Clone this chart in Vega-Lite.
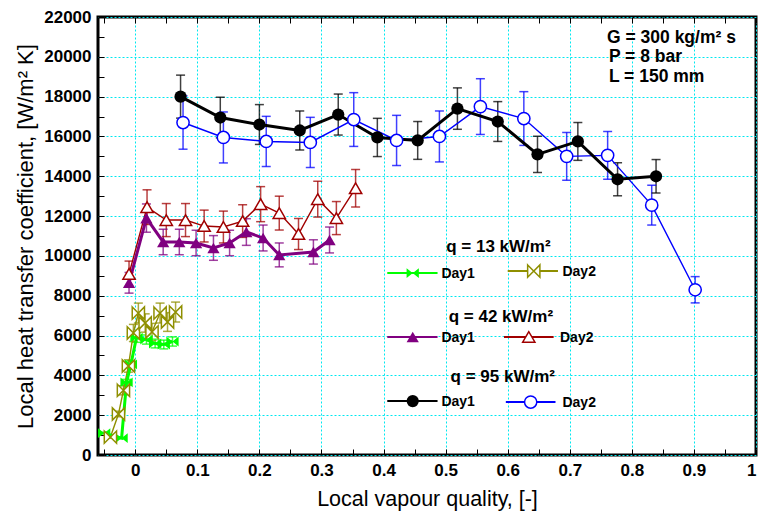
{
  "$schema": "https://vega.github.io/schema/vega-lite/v6.json",
  "width": 658,
  "height": 438,
  "autosize": {"type": "none"},
  "padding": {"left": 98, "top": 17, "right": 5, "bottom": 67},
  "background": "white",
  "config": {
    "view": {"stroke": "black", "strokeWidth": 3},
    "font": "Liberation Sans",
    "axis": {"domain": false, "tickColor": "black", "tickWidth": 1, "labelFont": "Liberation Sans", "titleFont": "Liberation Sans"}
  },
  "datasets": {
    "pts": [
      {"s": "95 Day1", "x": 0.073, "y": 18000, "lo": 16920, "hi": 19080},
      {"s": "95 Day1", "x": 0.137, "y": 16950, "lo": 15930, "hi": 17970},
      {"s": "95 Day1", "x": 0.2, "y": 16600, "lo": 15600, "hi": 17600},
      {"s": "95 Day1", "x": 0.265, "y": 16300, "lo": 15320, "hi": 17280},
      {"s": "95 Day1", "x": 0.327, "y": 17100, "lo": 16070, "hi": 18130},
      {"s": "95 Day1", "x": 0.39, "y": 15950, "lo": 14990, "hi": 16910},
      {"s": "95 Day1", "x": 0.455, "y": 15800, "lo": 14850, "hi": 16750},
      {"s": "95 Day1", "x": 0.519, "y": 17400, "lo": 16360, "hi": 18440},
      {"s": "95 Day1", "x": 0.584, "y": 16750, "lo": 15750, "hi": 17750},
      {"s": "95 Day1", "x": 0.648, "y": 15100, "lo": 14190, "hi": 16010},
      {"s": "95 Day1", "x": 0.713, "y": 15750, "lo": 14800, "hi": 16700},
      {"s": "95 Day1", "x": 0.777, "y": 13850, "lo": 13020, "hi": 14680},
      {"s": "95 Day1", "x": 0.839, "y": 14000, "lo": 13160, "hi": 14840},
      {"s": "95 Day2", "x": 0.077, "y": 16700, "lo": 15360, "hi": 18040},
      {"s": "95 Day2", "x": 0.142, "y": 15950, "lo": 14670, "hi": 17230},
      {"s": "95 Day2", "x": 0.211, "y": 15750, "lo": 14490, "hi": 17010},
      {"s": "95 Day2", "x": 0.282, "y": 15700, "lo": 14440, "hi": 16960},
      {"s": "95 Day2", "x": 0.352, "y": 16850, "lo": 15500, "hi": 18200},
      {"s": "95 Day2", "x": 0.421, "y": 15800, "lo": 14540, "hi": 17060},
      {"s": "95 Day2", "x": 0.49, "y": 16000, "lo": 14720, "hi": 17280},
      {"s": "95 Day2", "x": 0.556, "y": 17500, "lo": 16100, "hi": 18900},
      {"s": "95 Day2", "x": 0.626, "y": 16900, "lo": 15550, "hi": 18250},
      {"s": "95 Day2", "x": 0.695, "y": 15000, "lo": 13800, "hi": 16200},
      {"s": "95 Day2", "x": 0.761, "y": 15050, "lo": 13850, "hi": 16250},
      {"s": "95 Day2", "x": 0.832, "y": 12550, "lo": 11550, "hi": 13550},
      {"s": "95 Day2", "x": 0.902, "y": 8300, "lo": 7640, "hi": 8960},
      {"s": "42 Day1", "x": -0.01, "y": 8650, "lo": 8130, "hi": 9170},
      {"s": "42 Day1", "x": 0.018, "y": 11900, "lo": 11190, "hi": 12610},
      {"s": "42 Day1", "x": 0.045, "y": 10700, "lo": 10060, "hi": 11340},
      {"s": "42 Day1", "x": 0.071, "y": 10700, "lo": 10060, "hi": 11340},
      {"s": "42 Day1", "x": 0.098, "y": 10650, "lo": 10010, "hi": 11290},
      {"s": "42 Day1", "x": 0.126, "y": 10400, "lo": 9780, "hi": 11020},
      {"s": "42 Day1", "x": 0.152, "y": 10650, "lo": 10010, "hi": 11290},
      {"s": "42 Day1", "x": 0.179, "y": 11200, "lo": 10530, "hi": 11870},
      {"s": "42 Day1", "x": 0.206, "y": 10900, "lo": 10250, "hi": 11550},
      {"s": "42 Day1", "x": 0.232, "y": 10050, "lo": 9450, "hi": 10650},
      {"s": "42 Day1", "x": 0.287, "y": 10200, "lo": 9590, "hi": 10810},
      {"s": "42 Day1", "x": 0.313, "y": 10800, "lo": 10150, "hi": 11450},
      {"s": "42 Day2", "x": -0.01, "y": 9100, "lo": 8460, "hi": 9740},
      {"s": "42 Day2", "x": 0.019, "y": 12450, "lo": 11580, "hi": 13320},
      {"s": "42 Day2", "x": 0.05, "y": 11800, "lo": 10970, "hi": 12630},
      {"s": "42 Day2", "x": 0.081, "y": 11800, "lo": 10970, "hi": 12630},
      {"s": "42 Day2", "x": 0.111, "y": 11500, "lo": 10700, "hi": 12300},
      {"s": "42 Day2", "x": 0.142, "y": 11450, "lo": 10650, "hi": 12250},
      {"s": "42 Day2", "x": 0.173, "y": 11750, "lo": 10930, "hi": 12570},
      {"s": "42 Day2", "x": 0.202, "y": 12600, "lo": 11720, "hi": 13480},
      {"s": "42 Day2", "x": 0.232, "y": 12150, "lo": 11300, "hi": 13000},
      {"s": "42 Day2", "x": 0.263, "y": 11100, "lo": 10320, "hi": 11880},
      {"s": "42 Day2", "x": 0.294, "y": 12850, "lo": 11950, "hi": 13750},
      {"s": "42 Day2", "x": 0.324, "y": 11900, "lo": 11070, "hi": 12730},
      {"s": "42 Day2", "x": 0.355, "y": 13400, "lo": 12460, "hi": 14340},
      {"s": "13 Day1", "x": -0.05, "y": 1100, "lo": 1060, "hi": 1140},
      {"s": "13 Day1", "x": -0.022, "y": 850, "lo": 820, "hi": 880},
      {"s": "13 Day1", "x": -0.014, "y": 3650, "lo": 3500, "hi": 3800},
      {"s": "13 Day1", "x": -0.007, "y": 4550, "lo": 4370, "hi": 4730},
      {"s": "13 Day1", "x": 0.002, "y": 5900, "lo": 5660, "hi": 6140},
      {"s": "13 Day1", "x": 0.018, "y": 5800, "lo": 5570, "hi": 6030},
      {"s": "13 Day1", "x": 0.032, "y": 5600, "lo": 5380, "hi": 5820},
      {"s": "13 Day1", "x": 0.046, "y": 5550, "lo": 5330, "hi": 5770},
      {"s": "13 Day1", "x": 0.06, "y": 5700, "lo": 5470, "hi": 5930},
      {"s": "13 Day2", "x": -0.04, "y": 900, "lo": 840, "hi": 960},
      {"s": "13 Day2", "x": -0.027, "y": 2060, "lo": 1920, "hi": 2200},
      {"s": "13 Day2", "x": -0.019, "y": 3250, "lo": 3020, "hi": 3480},
      {"s": "13 Day2", "x": -0.011, "y": 4470, "lo": 4160, "hi": 4780},
      {"s": "13 Day2", "x": -0.003, "y": 6130, "lo": 5700, "hi": 6560},
      {"s": "13 Day2", "x": 0.005, "y": 7130, "lo": 6630, "hi": 7630},
      {"s": "13 Day2", "x": 0.016, "y": 6630, "lo": 6170, "hi": 7090},
      {"s": "13 Day2", "x": 0.027, "y": 6180, "lo": 5750, "hi": 6610},
      {"s": "13 Day2", "x": 0.04, "y": 7130, "lo": 6630, "hi": 7630},
      {"s": "13 Day2", "x": 0.052, "y": 6680, "lo": 6210, "hi": 7150},
      {"s": "13 Day2", "x": 0.065, "y": 7180, "lo": 6680, "hi": 7680}
    ],
    "leg": [
      {"s": "13 Day1", "x1": 0.406, "x2": 0.487, "mx": 0.447, "y": 9140, "tx": 0.49, "t": "Day1"},
      {"s": "13 Day2", "x1": 0.6, "x2": 0.681, "mx": 0.642, "y": 9240, "tx": 0.685, "t": "Day2"},
      {"s": "42 Day1", "x1": 0.406, "x2": 0.487, "mx": 0.447, "y": 5930, "tx": 0.49, "t": "Day1"},
      {"s": "42 Day2", "x1": 0.594, "x2": 0.674, "mx": 0.634, "y": 5930, "tx": 0.681, "t": "Day2"},
      {"s": "95 Day1", "x1": 0.406, "x2": 0.487, "mx": 0.447, "y": 2710, "tx": 0.49, "t": "Day1"},
      {"s": "95 Day2", "x1": 0.597, "x2": 0.677, "mx": 0.637, "y": 2660, "tx": 0.685, "t": "Day2"}
    ],
    "qtext": [
      {"x": 0.585, "y": 10450, "t": "q = 13 kW/m²"},
      {"x": 0.589, "y": 6930, "t": "q = 42 kW/m²"},
      {"x": 0.592, "y": 3920, "t": "q = 95 kW/m²"}
    ],
    "cond": [
      {"x": 0.76, "y": 20950, "t": "G = 300 kg/m² s"},
      {"x": 0.763, "y": 19990, "t": "P = 8 bar"},
      {"x": 0.763, "y": 18990, "t": "L = 150 mm"}
    ]
  },
  "layer": [
    {
      "data": {"name": "cond"},
      "mark": {"type": "text", "align": "left", "baseline": "middle", "fontSize": 17.5, "fontWeight": "bold", "color": "black"},
      "encoding": {
        "x": {"field": "x", "type": "quantitative", "scale": {"domain": [-0.06, 1.0], "nice": false, "zero": false},
          "axis": {"title": "Local vapour quality, [-]", "titleFontSize": 21.5, "titleFontWeight": "normal", "titlePadding": 10, "titleColor": "black",
            "values": [-0.05, 0, 0.05, 0.1, 0.15, 0.2, 0.25, 0.3, 0.35, 0.4, 0.45, 0.5, 0.55, 0.6, 0.65, 0.7, 0.75, 0.8, 0.85, 0.9, 0.95, 1.0],
            "labelExpr": "(abs(datum.value*10 - round(datum.value*10)) < 0.001 && datum.value >= 0) ? format(datum.value, '') : ''",
            "labelFontSize": 17, "labelFontWeight": "bold", "labelColor": "black", "labelPadding": 13, "tickSize": -6,
            "grid": true, "gridColor": "#00e8f0", "gridDash": [2, 2], "gridWidth": 1,
            "gridOpacity": {"condition": {"test": "abs(datum.value*10 - round(datum.value*10)) < 0.001 && datum.value >= 0", "value": 1}, "value": 0}}},
        "y": {"field": "y", "type": "quantitative", "scale": {"domain": [0, 22000], "nice": false, "zero": false},
          "axis": {"title": "Local heat transfer coefficient, [W/m² K]", "titleFontSize": 22, "titleFontWeight": "normal", "titlePadding": 6, "titleColor": "black",
            "values": [0, 1000, 2000, 3000, 4000, 5000, 6000, 7000, 8000, 9000, 10000, 11000, 12000, 13000, 14000, 15000, 16000, 17000, 18000, 19000, 20000, 21000, 22000],
            "labelExpr": "datum.value % 2000 == 0 ? '' + datum.value : ''",
            "labelFontSize": 17, "labelFontWeight": "bold", "labelColor": "black", "labelPadding": 13, "tickSize": -6,
            "grid": true, "gridColor": "#00e8f0", "gridDash": [2, 2], "gridWidth": 1,
            "gridOpacity": {"condition": {"test": "datum.value % 2000 == 0", "value": 1}, "value": 0}}},
        "text": {"field": "t"}
      }
    },
    {
      "data": {"name": "qtext"},
      "mark": {"type": "text", "align": "center", "baseline": "middle", "fontSize": 17, "fontWeight": "bold", "color": "black"},
      "encoding": {
        "x": {"field": "x", "type": "quantitative", "scale": {"domain": [-0.06, 1.0], "nice": false, "zero": false},
          "axis": {"orient": "top", "title": null, "labels": false, "grid": false, "tickSize": -6,
            "values": [-0.05, 0, 0.05, 0.1, 0.15, 0.2, 0.25, 0.3, 0.35, 0.4, 0.45, 0.5, 0.55, 0.6, 0.65, 0.7, 0.75, 0.8, 0.85, 0.9, 0.95, 1.0]}},
        "y": {"field": "y", "type": "quantitative", "scale": {"domain": [0, 22000], "nice": false, "zero": false}, "axis": null},
        "text": {"field": "t"}
      }
    },
    {
      "data": {"name": "pts"},
      "mark": {"type": "rule", "strokeWidth": 1.5, "opacity": 0.75},
      "encoding": {
        "x": {"field": "x", "type": "quantitative", "scale": {"domain": [-0.06, 1.0], "nice": false, "zero": false}, "axis": null},
        "y": {"field": "lo", "type": "quantitative", "scale": {"domain": [0, 22000], "nice": false, "zero": false}, "axis": null},
        "y2": {"field": "hi"},
        "color": {"field": "s", "type": "nominal", "legend": null,
          "scale": {"domain": ["13 Day1", "13 Day2", "42 Day1", "42 Day2", "95 Day1", "95 Day2"], "range": ["#00ff00", "#8f8f00", "#800080", "#a00000", "#000000", "#0000ff"]}}
      }
    },
    {
      "data": {"name": "pts"},
      "mark": {"type": "tick", "orient": "horizontal", "size": 9, "thickness": 1.5, "opacity": 0.75},
      "encoding": {
        "x": {"field": "x", "type": "quantitative", "scale": {"domain": [-0.06, 1.0], "nice": false, "zero": false}, "axis": null},
        "y": {"field": "lo", "type": "quantitative", "scale": {"domain": [0, 22000], "nice": false, "zero": false}, "axis": null},
        "color": {"field": "s", "type": "nominal", "legend": null,
          "scale": {"domain": ["13 Day1", "13 Day2", "42 Day1", "42 Day2", "95 Day1", "95 Day2"], "range": ["#00ff00", "#8f8f00", "#800080", "#a00000", "#000000", "#0000ff"]}}
      }
    },
    {
      "data": {"name": "pts"},
      "mark": {"type": "tick", "orient": "horizontal", "size": 9, "thickness": 1.5, "opacity": 0.75},
      "encoding": {
        "x": {"field": "x", "type": "quantitative", "scale": {"domain": [-0.06, 1.0], "nice": false, "zero": false}, "axis": null},
        "y": {"field": "hi", "type": "quantitative", "scale": {"domain": [0, 22000], "nice": false, "zero": false}, "axis": null},
        "color": {"field": "s", "type": "nominal", "legend": null,
          "scale": {"domain": ["13 Day1", "13 Day2", "42 Day1", "42 Day2", "95 Day1", "95 Day2"], "range": ["#00ff00", "#8f8f00", "#800080", "#a00000", "#000000", "#0000ff"]}}
      }
    },
    {
      "data": {"name": "pts"},
      "transform": [{"filter": "indexof(datum.s, 'Day2') >= 0"}],
      "mark": {"type": "line", "strokeWidth": 1.4},
      "encoding": {
        "x": {"field": "x", "type": "quantitative", "scale": {"domain": [-0.06, 1.0], "nice": false, "zero": false}, "axis": null},
        "y": {"field": "y", "type": "quantitative", "scale": {"domain": [0, 22000], "nice": false, "zero": false}, "axis": null},
        "detail": {"field": "s"},
        "color": {"field": "s", "type": "nominal", "legend": null,
          "scale": {"domain": ["13 Day1", "13 Day2", "42 Day1", "42 Day2", "95 Day1", "95 Day2"], "range": ["#00ff00", "#8f8f00", "#800080", "#a00000", "#000000", "#0000ff"]}}
      }
    },
    {
      "data": {"name": "pts"},
      "transform": [{"filter": "indexof(datum.s, 'Day1') >= 0"}],
      "mark": {"type": "line", "strokeWidth": 3},
      "encoding": {
        "x": {"field": "x", "type": "quantitative", "scale": {"domain": [-0.06, 1.0], "nice": false, "zero": false}, "axis": null},
        "y": {"field": "y", "type": "quantitative", "scale": {"domain": [0, 22000], "nice": false, "zero": false}, "axis": null},
        "detail": {"field": "s"},
        "color": {"field": "s", "type": "nominal", "legend": null,
          "scale": {"domain": ["13 Day1", "13 Day2", "42 Day1", "42 Day2", "95 Day1", "95 Day2"], "range": ["#00ff00", "#8f8f00", "#800080", "#a00000", "#000000", "#0000ff"]}}
      }
    },
    {
      "data": {"name": "pts"},
      "transform": [{"filter": "indexof(datum.s, 'Day1') >= 0"}],
      "mark": {"type": "point", "filled": true, "opacity": 1, "size": 150},
      "encoding": {
        "x": {"field": "x", "type": "quantitative", "scale": {"domain": [-0.06, 1.0], "nice": false, "zero": false}, "axis": null},
        "y": {"field": "y", "type": "quantitative", "scale": {"domain": [0, 22000], "nice": false, "zero": false}, "axis": null},
        "color": {"field": "s", "type": "nominal", "legend": null,
          "scale": {"domain": ["13 Day1", "13 Day2", "42 Day1", "42 Day2", "95 Day1", "95 Day2"], "range": ["#00ff00", "#8f8f00", "#800080", "#a00000", "#000000", "#0000ff"]}},
        "shape": {"field": "s", "type": "nominal", "legend": null,
          "scale": {"domain": ["13 Day1", "13 Day2", "42 Day1", "42 Day2", "95 Day1", "95 Day2"], "range": ["M-1,-0.8L1,0.8L1,-0.8L-1,0.8Z", "M-1,-1L1,1L1,-1L-1,1Z", "triangle-up", "triangle-up", "circle", "circle"]}}
      }
    },
    {
      "data": {"name": "pts"},
      "transform": [{"filter": "indexof(datum.s, 'Day2') >= 0"}],
      "mark": {"type": "point", "filled": false, "fill": "white", "fillOpacity": 1, "opacity": 1, "size": 150, "strokeWidth": 1.5},
      "encoding": {
        "x": {"field": "x", "type": "quantitative", "scale": {"domain": [-0.06, 1.0], "nice": false, "zero": false}, "axis": null},
        "y": {"field": "y", "type": "quantitative", "scale": {"domain": [0, 22000], "nice": false, "zero": false}, "axis": null},
        "stroke": {"field": "s", "type": "nominal", "legend": null,
          "scale": {"domain": ["13 Day1", "13 Day2", "42 Day1", "42 Day2", "95 Day1", "95 Day2"], "range": ["#00ff00", "#8f8f00", "#800080", "#a00000", "#000000", "#0000ff"]}},
        "shape": {"field": "s", "type": "nominal", "legend": null,
          "scale": {"domain": ["13 Day1", "13 Day2", "42 Day1", "42 Day2", "95 Day1", "95 Day2"], "range": ["M-1,-0.8L1,0.8L1,-0.8L-1,0.8Z", "M-1,-1L1,1L1,-1L-1,1Z", "triangle-up", "triangle-up", "circle", "circle"]}}
      }
    },
    {
      "data": {"name": "leg"},
      "mark": {"type": "rule", "strokeWidth": 2},
      "encoding": {
        "x": {"field": "x1", "type": "quantitative", "scale": {"domain": [-0.06, 1.0], "nice": false, "zero": false}, "axis": null},
        "x2": {"field": "x2"},
        "y": {"field": "y", "type": "quantitative", "scale": {"domain": [0, 22000], "nice": false, "zero": false}, "axis": null},
        "color": {"field": "s", "type": "nominal", "legend": null,
          "scale": {"domain": ["13 Day1", "13 Day2", "42 Day1", "42 Day2", "95 Day1", "95 Day2"], "range": ["#00ff00", "#8f8f00", "#800080", "#a00000", "#000000", "#0000ff"]}}
      }
    },
    {
      "data": {"name": "leg"},
      "transform": [{"filter": "indexof(datum.s, 'Day1') >= 0"}],
      "mark": {"type": "point", "filled": true, "opacity": 1, "size": 150},
      "encoding": {
        "x": {"field": "mx", "type": "quantitative", "scale": {"domain": [-0.06, 1.0], "nice": false, "zero": false}, "axis": null},
        "y": {"field": "y", "type": "quantitative", "scale": {"domain": [0, 22000], "nice": false, "zero": false}, "axis": null},
        "color": {"field": "s", "type": "nominal", "legend": null,
          "scale": {"domain": ["13 Day1", "13 Day2", "42 Day1", "42 Day2", "95 Day1", "95 Day2"], "range": ["#00ff00", "#8f8f00", "#800080", "#a00000", "#000000", "#0000ff"]}},
        "shape": {"field": "s", "type": "nominal", "legend": null,
          "scale": {"domain": ["13 Day1", "13 Day2", "42 Day1", "42 Day2", "95 Day1", "95 Day2"], "range": ["M-1,-0.8L1,0.8L1,-0.8L-1,0.8Z", "M-1,-1L1,1L1,-1L-1,1Z", "triangle-up", "triangle-up", "circle", "circle"]}}
      }
    },
    {
      "data": {"name": "leg"},
      "transform": [{"filter": "indexof(datum.s, 'Day2') >= 0"}],
      "mark": {"type": "point", "filled": false, "fill": "white", "fillOpacity": 1, "opacity": 1, "size": 150, "strokeWidth": 1.5},
      "encoding": {
        "x": {"field": "mx", "type": "quantitative", "scale": {"domain": [-0.06, 1.0], "nice": false, "zero": false}, "axis": null},
        "y": {"field": "y", "type": "quantitative", "scale": {"domain": [0, 22000], "nice": false, "zero": false}, "axis": null},
        "stroke": {"field": "s", "type": "nominal", "legend": null,
          "scale": {"domain": ["13 Day1", "13 Day2", "42 Day1", "42 Day2", "95 Day1", "95 Day2"], "range": ["#00ff00", "#8f8f00", "#800080", "#a00000", "#000000", "#0000ff"]}},
        "shape": {"field": "s", "type": "nominal", "legend": null,
          "scale": {"domain": ["13 Day1", "13 Day2", "42 Day1", "42 Day2", "95 Day1", "95 Day2"], "range": ["M-1,-0.8L1,0.8L1,-0.8L-1,0.8Z", "M-1,-1L1,1L1,-1L-1,1Z", "triangle-up", "triangle-up", "circle", "circle"]}}
      }
    },
    {
      "data": {"name": "leg"},
      "mark": {"type": "text", "align": "left", "baseline": "middle", "fontSize": 14, "fontWeight": "bold", "color": "black", "dx": 2, "dy": 1},
      "encoding": {
        "x": {"field": "tx", "type": "quantitative", "scale": {"domain": [-0.06, 1.0], "nice": false, "zero": false}, "axis": null},
        "y": {"field": "y", "type": "quantitative", "scale": {"domain": [0, 22000], "nice": false, "zero": false}, "axis": null},
        "text": {"field": "t"}
      }
    }
  ],
  "resolve": {"axis": {"x": "independent", "y": "independent"}}
}
